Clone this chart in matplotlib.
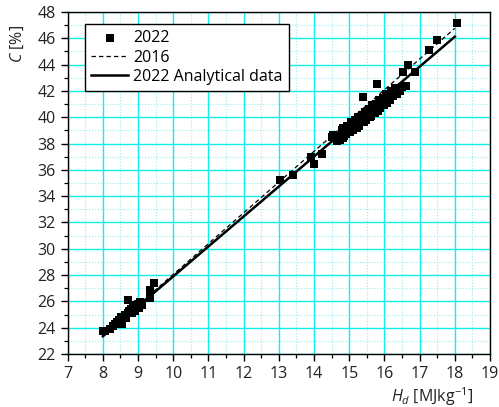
#!/usr/bin/env python3
"""Carbon content C versus heating value H_d: 2022 samples with fitted lines."""

import matplotlib
matplotlib.use("Agg")
import matplotlib.pyplot as plt
from matplotlib.ticker import MultipleLocator

plt.rcParams.update(
    {
        "font.family": "Open Sans",
        "mathtext.fontset": "custom",
        "mathtext.rm": "Open Sans",
        "mathtext.it": "Open Sans:italic",
    }
)

# measured samples, 2022
hd_2022 = [
    8.01, 8.05, 8.20, 8.30, 8.34, 8.40, 8.45, 8.50, 8.52, 8.60, 8.62, 8.70,
    8.72, 8.75, 8.80, 8.85, 8.90, 8.95, 8.97, 9.00, 9.05, 9.10, 9.34, 9.34,
    9.45, 8.55, 8.65, 8.82, 8.92, 9.02,
    13.03, 13.41, 13.91, 14.00, 14.22,
    14.50, 14.53, 14.60, 14.70, 14.75, 14.80, 14.81, 14.83, 14.90, 14.95,
    15.00, 15.05, 15.10, 15.15, 15.20, 15.25, 15.30, 15.35, 15.38, 15.40,
    15.45, 15.50, 15.55, 15.60, 15.65, 15.70, 15.75, 15.78, 15.80, 15.85,
    15.90, 15.95, 16.00, 16.05, 16.10, 16.20, 16.30, 16.40, 16.50, 16.53,
    16.60, 16.68, 16.87,
    14.65, 14.85, 14.92, 15.02, 15.12, 15.22, 15.28, 15.42, 15.48, 15.58,
    15.62, 15.72, 15.82, 15.88, 15.98, 16.08, 16.15, 16.25, 16.35, 16.45,
    17.27, 17.50, 18.05,
]
c_2022 = [
    23.76, 23.75, 23.87, 24.10, 24.30, 24.40, 24.60, 24.50, 24.80, 24.70,
    25.00, 25.10, 26.10, 25.30, 25.40, 25.60, 25.50, 25.70, 25.50, 25.80,
    25.97, 25.70, 26.23, 26.90, 27.40, 24.30, 24.70, 25.10, 25.30, 25.50,
    35.20, 35.60, 37.00, 36.44, 37.20,
    38.50, 38.65, 38.40, 38.60, 38.30, 39.00, 38.40, 39.15, 38.90, 39.30,
    39.10, 39.60, 39.20, 39.80, 39.50, 40.00, 39.60, 40.20, 41.56, 40.00,
    40.40, 40.10, 40.60, 40.30, 40.90, 40.50, 41.00, 42.50, 40.80, 41.30,
    41.00, 41.50, 41.20, 41.80, 41.60, 42.00, 42.20, 42.10, 42.30, 43.46,
    42.40, 43.97, 43.46,
    38.20, 38.60, 38.70, 38.90, 39.00, 39.20, 39.30, 39.60, 39.80, 40.00,
    40.10, 40.30, 40.50, 40.70, 40.90, 41.10, 41.30, 41.60, 41.80, 42.00,
    45.10, 45.87, 47.14,
]

# fitted lines (end points)
hd_fit = [8.0, 18.0]
c_fit_2016 = [23.38, 46.76]
c_fit_2022 = [23.35, 46.12]

fig = plt.figure(figsize=(4.99, 4.07), dpi=100)
ax = fig.add_axes([67.7 / 499, 53 / 407, 422.3 / 499, 342 / 407])

ax.set_xlim(7, 19)
ax.set_ylim(22, 48)
ax.xaxis.set_major_locator(MultipleLocator(1))
ax.xaxis.set_minor_locator(MultipleLocator(0.5))
ax.yaxis.set_major_locator(MultipleLocator(2))
ax.yaxis.set_minor_locator(MultipleLocator(1))

ax.grid(which="major", color="#10eeee", lw=1.0, ls="-")
ax.grid(which="minor", color="#90f0f0", lw=0.8, ls=":")
ax.set_axisbelow(True)

ax.tick_params(which="major", direction="out", length=5, width=1.0,
               labelsize=11.5, colors="black", labelcolor="#222222")
ax.tick_params(which="minor", direction="out", length=3, width=0.9)
for sp in ax.spines.values():
    sp.set_linewidth(1.0)
    sp.set_color("black")

ax.scatter(hd_2022, c_2022, marker="s", s=36, color="black", lw=0,
           zorder=3, label="2022")
ax.plot(hd_fit, c_fit_2016, color="black", lw=0.9, ls=(0, (3.5, 2.5)),
        zorder=4, label="2016")
ax.plot(hd_fit, c_fit_2022, color="black", lw=1.8, zorder=4,
        label="2022 Analytical data")

leg = ax.legend(
    loc="upper left",
    bbox_to_anchor=(0.041, 0.965),
    borderaxespad=0,
    fontsize=11.5,
    frameon=True,
    fancybox=False,
    framealpha=1,
    edgecolor="black",
    handlelength=2.3,
    handletextpad=0.3,
    labelspacing=0.2,
    borderpad=0.4,
)
leg.get_frame().set_linewidth(1.0)

ax.text(-0.12, 0.905, r"$C$ [%]", rotation=90, ha="center", va="center",
        fontsize=11.5, color="#222222", transform=ax.transAxes)
ax.text(0.863, -0.126, r"$H_d$ [MJkg$^{-1}$]", ha="center", va="center",
        fontsize=11.5, color="#222222", transform=ax.transAxes)

fig.savefig("out.png", dpi=100)
